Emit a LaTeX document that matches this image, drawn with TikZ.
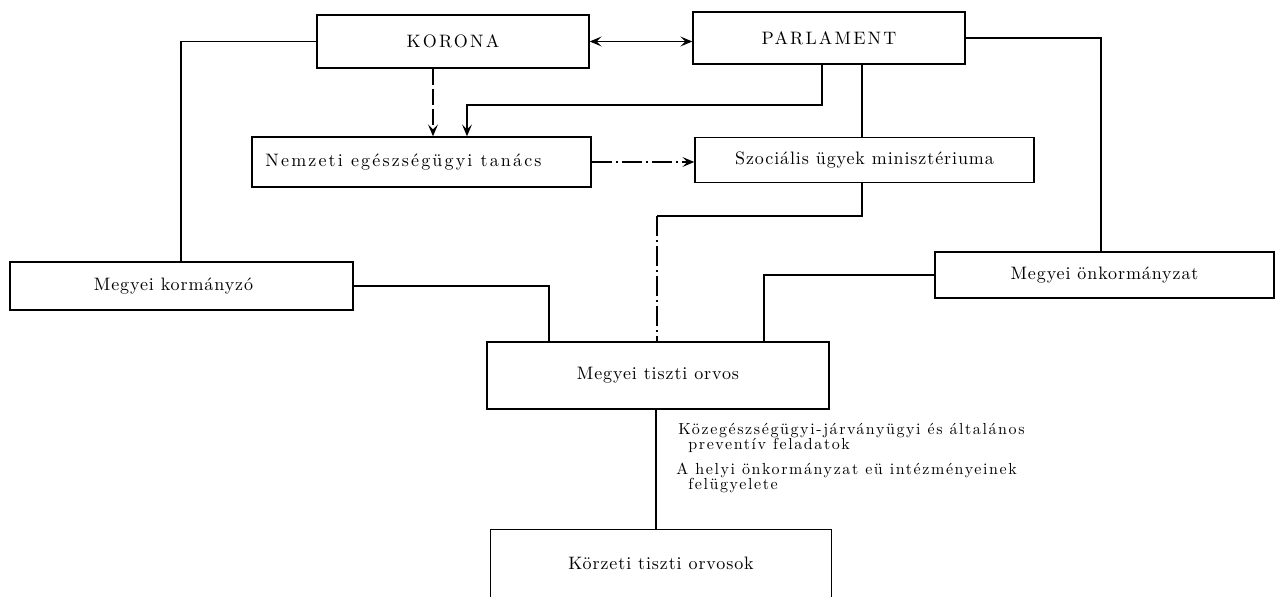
\documentclass[tikz,border=0pt]{standalone}
\usepackage{fontspec}
\usetikzlibrary{arrows.meta}
\newfontfamily\lmbox{lmroman10-regular.otf}[LetterSpace=5]
\newfontfamily\lmwide{lmroman10-regular.otf}[LetterSpace=12]
\newfontfamily\lmann{lmroman10-regular.otf}[LetterSpace=10]
\begin{document}
\begin{tikzpicture}[x=0.5pt,y=-0.5pt,
  box/.style={draw,line width=0.7pt,inner sep=0pt,align=center,
    font=\lmbox\fontsize{9}{10}\selectfont},
  widebox/.style={box,font=\lmwide\fontsize{9}{10}\selectfont},
  conn/.style={line width=0.6pt},
  tipr/.style={-{Stealth[length=6pt,width=5pt,inset=2.5pt]}},
  tipb/.style={{Stealth[length=6pt,width=5pt,inset=2.5pt]}-{Stealth[length=6pt,width=5pt,inset=2.5pt]}},
  longdash/.style={dash pattern=on 8pt off 2pt},
  dashdot/.style={dash pattern=on 10pt off 2pt on 1pt off 2pt},
  ann/.style={inner sep=0pt,anchor=west,align=left,
    font=\lmann\fontsize{8}{7.5}\selectfont}
]
\useasboundingbox (0,0) rectangle (1282,597);

% boxes
\node[widebox,minimum width=136pt,minimum height=26.5pt] (korona) at (453,41.5) {KORONA};
\node[widebox,minimum width=136pt,minimum height=26pt] (parlament) at (829,38) {PARLAMENT};
\node[widebox,minimum width=169.5pt,minimum height=25pt] (nemzeti) at (421.5,162) {Nemzeti egészségügyi tanács\hspace*{18pt}};
\node[box,minimum width=169.5pt,minimum height=22.5pt] (szoc) at (864.5,160) {Szociális ügyek minisztériuma};
\node[box,minimum width=171.5pt,minimum height=24pt] (kormanyzo) at (181.5,286) {Megyei kormányzó\hspace*{8pt}};
\node[box,minimum width=169.5pt,minimum height=23pt] (onk) at (1104.5,275) {Megyei önkormányzat};
\node[box,minimum width=171pt,minimum height=33.5pt] (tiszti) at (658,375.5) {Megyei tiszti orvos};
\node[box,draw=none,minimum width=170pt,minimum height=33.5pt] (korzeti) at (661,563.5) {Körzeti tiszti orvosok};
\draw[line width=0.7pt] (korzeti.south west) -- (korzeti.north west) -- (korzeti.north east) -- (korzeti.south east);

% annotations
\node[ann] (ann1) at (678,437.5) {Közegészségügyi-járványügyi és általános\\\hspace*{5pt}preventív feladatok};
\node[ann] (ann2) at (676,477.5) {A helyi önkormányzat eü intézményeinek\\\hspace*{6pt}felügyelete};

% helper coordinates
\coordinate (kx) at (181,0);
\coordinate (ax) at (433,0);
\coordinate (p1) at (822,0);
\coordinate (pc) at (467,105);
\coordinate (p2) at (862,0);
\coordinate (rx) at (1101,0);
\coordinate (sc) at (657,216);
\coordinate (lx) at (549,0);
\coordinate (ox) at (764,0);
\coordinate (tx) at (656,0);

% connectors
\draw[conn] (korona.west) -| (kormanyzo.north -| kx);
\draw[conn,tipb] (korona.east) -- (korona.east -| parlament.west);
\draw[conn,longdash,tipr] (korona.south -| ax) -- (nemzeti.north -| ax);
\draw[conn,tipr] (parlament.south -| p1) |- (pc) -- (nemzeti.north -| pc);
\draw[conn] (parlament.south -| p2) -- (szoc.north -| p2);
\draw[conn] (parlament.east) -| (onk.north -| rx);
\draw[conn,dashdot,tipr] (nemzeti.east) -- (nemzeti.east -| szoc.west);
\draw[conn] (szoc.south -| p2) |- (sc);
\draw[conn,dashdot] (sc) -- (tiszti.north -| sc);
\draw[conn] (kormanyzo.east) -| (tiszti.north -| lx);
\draw[conn] (onk.west) -| (tiszti.north -| ox);
\draw[conn] (tiszti.south -| tx) -- (korzeti.north -| tx);
\end{tikzpicture}
\end{document}
